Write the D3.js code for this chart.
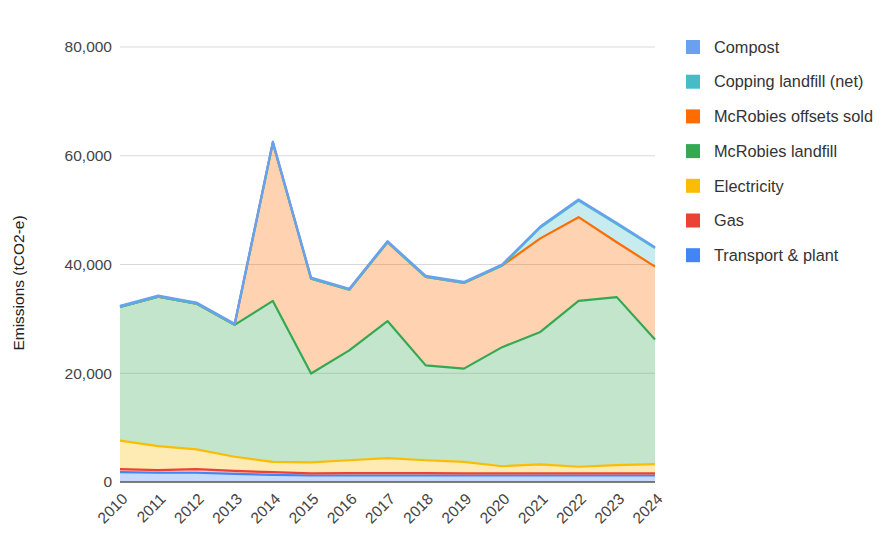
<!DOCTYPE html>
<html>
<head>
<meta charset="utf-8">
<script src="https://cdn.jsdelivr.net/npm/d3@7"></script>
<style>
  html, body { margin: 0; padding: 0; background: #fff; }
  svg { display: block; font-family: "Liberation Sans", Arial, sans-serif; }
</style>
</head>
<body>
<svg id="chart" width="893" height="549"></svg>
<script>
// years along the x axis
const years = [2010, 2011, 2012, 2013, 2014, 2015, 2016, 2017, 2018, 2019, 2020, 2021, 2022, 2023, 2024];

// series values (tCO2-e), bottom of the stack first
const transportPlant = [1800, 1700, 1700, 1500, 1300, 1200, 1200, 1200, 1200, 1200, 1200, 1200, 1200, 1200, 1200];
const gas            = [550, 500, 650, 550, 500, 400, 450, 450, 450, 400, 400, 400, 400, 400, 400];
const electricity    = [5250, 4400, 3650, 2600, 1900, 2000, 2350, 2750, 2350, 2100, 1300, 1650, 1200, 1500, 1700];
const mcrobiesLandfill = [24600, 27500, 26800, 24250, 29600, 16350, 20200, 25200, 17450, 17150, 21900, 24350, 30500, 30900, 22900];
const mcrobiesOffsets  = [0, 0, 0, 0, 29100, 17450, 11150, 14500, 16250, 15750, 15000, 17200, 15400, 10100, 13400];
const coppingLandfill  = [0, 0, 0, 0, 0, 0, 0, 0, 0, 0, 0, 2000, 3050, 3350, 3400];
const compost          = [200, 200, 200, 200, 200, 200, 200, 200, 200, 200, 200, 200, 200, 200, 200];

const seriesNames = ["Transport & plant", "Gas", "Electricity", "McRobies landfill", "McRobies offsets sold", "Copping landfill (net)", "Compost"];
const seriesColors = ["#4285f4", "#ea4335", "#fbbc04", "#34a853", "#ff6d01", "#46bdc6", "#6b9ff0"];
const seriesValues = [transportPlant, gas, electricity, mcrobiesLandfill, mcrobiesOffsets, coppingLandfill, compost];

const yTicks = [0, 20000, 40000, 60000, 80000];

const svg = d3.select("#chart");
const plotLeft = 120, plotRight = 655, plotTop = 47, plotBottom = 482;

const x = d3.scaleLinear().domain([years[0], years[years.length - 1]]).range([plotLeft, plotRight]);
const y = d3.scaleLinear().domain([0, 80000]).range([plotBottom, plotTop]);

// table for d3.stack
const rows = years.map((yr, i) => {
  const r = { year: yr };
  seriesNames.forEach((n, k) => r[n] = seriesValues[k][i]);
  return r;
});
const stacked = d3.stack().keys(seriesNames)(rows);

// gridlines
svg.append("g").selectAll("line")
  .data(yTicks.filter(t => t > 0))
  .join("line")
  .attr("x1", plotLeft).attr("x2", plotRight)
  .attr("y1", d => y(d)).attr("y2", d => y(d))
  .attr("stroke", "#d9d9d9").attr("stroke-width", 1);

// y tick labels
const yAxis = d3.axisLeft(y).tickValues(yTicks).tickSize(0).tickPadding(8).tickFormat(d3.format(","));
const yg = svg.append("g").attr("transform", `translate(${plotLeft},0)`).call(yAxis);
yg.select(".domain").remove();
yg.selectAll("text").attr("font-size", 15.5).attr("fill", "#444").attr("font-family", "Liberation Sans, Arial, sans-serif");

// areas
const area = d3.area()
  .x(d => x(d.data.year))
  .y0(d => y(d[0]))
  .y1(d => y(d[1]));
const line = d3.line()
  .x(d => x(d.data.year))
  .y(d => y(d[1]));

svg.append("g").selectAll("path")
  .data(stacked)
  .join("path")
  .attr("d", area)
  .attr("fill", (d, i) => seriesColors[i])
  .attr("fill-opacity", 0.3);

svg.append("g").selectAll("path")
  .data(stacked)
  .join("path")
  .attr("d", line)
  .attr("fill", "none")
  .attr("stroke", (d, i) => seriesColors[i])
  .attr("stroke-width", 2.2)
  .attr("stroke-linejoin", "round");

// baseline
svg.append("line")
  .attr("x1", plotLeft).attr("x2", plotRight)
  .attr("y1", y(0)).attr("y2", y(0))
  .attr("stroke", "#555").attr("stroke-width", 1.5);

// x labels, slanted
const xAxis = d3.axisBottom(x).tickValues(years).tickSize(0).tickFormat(d3.format("d"));
const xg = svg.append("g").attr("transform", `translate(0,${plotBottom})`).call(xAxis);
xg.select(".domain").remove();
xg.selectAll("text")
  .attr("font-size", 15.5)
  .attr("fill", "#444")
  .attr("font-family", "Liberation Sans, Arial, sans-serif")
  .attr("text-anchor", "end")
  .attr("dy", null)
  .attr("y", 0)
  .attr("transform", "translate(8,18) rotate(-45)");

// y axis title
svg.append("text")
  .attr("transform", "translate(24,283) rotate(-90)")
  .attr("text-anchor", "middle")
  .attr("font-size", 15.5)
  .attr("fill", "#222")
  .text("Emissions (tCO2-e)");

// legend, top series first
const legendItems = seriesNames.map((n, i) => ({ name: n, color: seriesColors[i] })).reverse();
const lg = svg.append("g").selectAll("g")
  .data(legendItems)
  .join("g")
  .attr("transform", (d, i) => `translate(686,${47 + i * 34.7})`);
lg.append("rect")
  .attr("x", 0).attr("y", -7).attr("width", 14).attr("height", 14)
  .attr("fill", d => d.color);
lg.append("text")
  .attr("x", 28).attr("y", 0).attr("dy", "0.35em")
  .attr("font-size", 16.3)
  .attr("fill", "#333")
  .text(d => d.name);
</script>
</body>
</html>
